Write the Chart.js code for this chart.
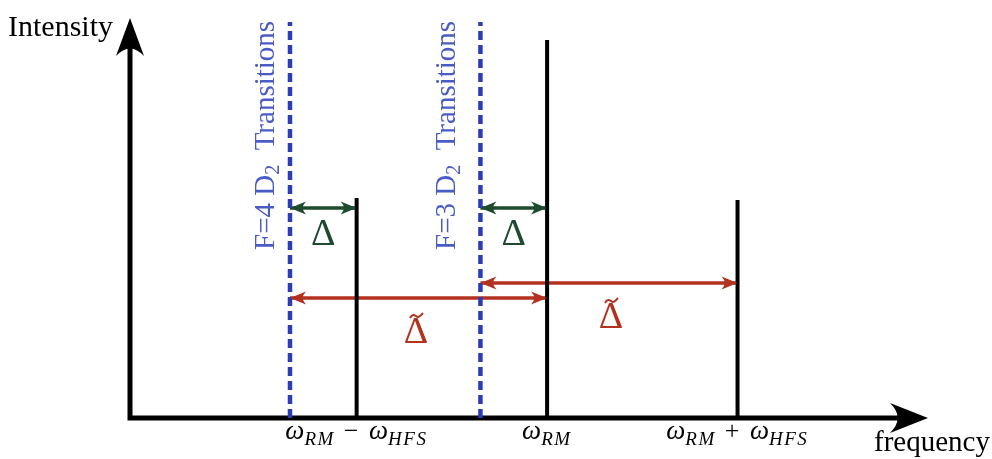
<!DOCTYPE html>
<html>
<head>
<meta charset="utf-8">
<script src="https://cdn.jsdelivr.net/npm/chart.js@4.4.0/dist/chart.umd.min.js"></script>
<style>
  html, body { margin: 0; padding: 0; background: #fff; }
  #wrap { width: 992px; height: 459px; }
</style>
</head>
<body>
<div id="wrap"><canvas id="chart" width="992" height="459"></canvas></div>
<script>
// frequencies in units of the hyperfine splitting, centred on omega_RM
const stemFreqs = [-1, 0, 1];
const stemHeights = [0.55, 0.945, 0.545];
const transitionFreqs = [-1.35, -0.35];
const transitionNames = ['F=4', 'F=3'];
const transitionTop = 0.99;
// detuning arrows: [from, to, level]
const deltaArrows = [[-1.35, -1, 0.525], [-0.35, 0, 0.525]];
const tildeArrows = [[-1.35, 0, 0.30], [-0.35, 1, 0.3375]];
const tickFreqs = [-1, 0, 1];
const tickLabels = [
  [['ω', 'RM'], ' − ', ['ω', 'HFS']],
  [['ω', 'RM']],
  [['ω', 'RM'], ' + ', ['ω', 'HFS']]
];

const BLUE = '#2b3cb6';
const BLUE_TEXT = '#4a5cc4';
const GREEN = '#1e4a2e';
const RED = '#b3321f';
const SERIF = '"Liberation Serif", "DejaVu Serif", serif';

const datasets = [];
stemFreqs.forEach((f, i) => {
  datasets.push({
    data: [{ x: f, y: 0 }, { x: f, y: stemHeights[i] }],
    borderColor: '#000', borderWidth: 4, pointRadius: 0, borderCapStyle: 'butt'
  });
});
transitionFreqs.forEach((f) => {
  datasets.push({
    data: [{ x: f, y: 0 }, { x: f, y: transitionTop }],
    borderColor: BLUE, borderWidth: 4.5, borderDash: [9, 5], pointRadius: 0
  });
});
deltaArrows.concat(tildeArrows).forEach((a, i) => {
  datasets.push({
    data: [{ x: a[0], y: a[2] }, { x: a[1], y: a[2] }],
    borderColor: i < deltaArrows.length ? GREEN : RED,
    borderWidth: 3.5, pointRadius: 0, arrow: true
  });
});

// concave LaTeX-like arrow head, tip at (x,y), pointing along angle
function head(ctx, x, y, ang, len, half, color) {
  ctx.save();
  ctx.translate(x, y);
  ctx.rotate(ang);
  ctx.fillStyle = color;
  ctx.beginPath();
  ctx.moveTo(0, 0);
  ctx.lineTo(-len, -half);
  ctx.quadraticCurveTo(-len * 0.6, 0, -len, half);
  ctx.closePath();
  ctx.fill();
  ctx.restore();
}

function mathLabel(ctx, parts, cx, y) {
  const big = 'italic 27px ' + SERIF;
  const sub = 'italic 19px ' + SERIF;
  const up = '26px ' + SERIF;
  const pieces = [];
  parts.forEach(p => {
    if (typeof p === 'string') {
      pieces.push({ t: p, f: up, dy: 0, gap: 4 });
    } else {
      pieces.push({ t: p[0], f: big, dy: 0, gap: 0 });
      pieces.push({ t: p[1], f: sub, dy: 6, gap: 1.5 });
    }
  });
  let w = 0;
  pieces.forEach(p => {
    ctx.font = p.f;
    p.w = ctx.measureText(p.t).width + p.gap * (p.t.length - 1);
    w += p.w;
  });
  let x = cx - w / 2;
  ctx.textAlign = 'left';
  ctx.textBaseline = 'alphabetic';
  pieces.forEach(p => {
    ctx.font = p.f;
    let xx = x;
    for (const ch of p.t) {
      ctx.fillText(ch, xx, y + p.dy);
      xx += ctx.measureText(ch).width + p.gap;
    }
    x += p.w;
  });
}

function deltaGlyph(ctx, x, y, color, tilde) {
  ctx.fillStyle = color;
  ctx.strokeStyle = color;
  ctx.font = '38px ' + SERIF;
  ctx.textAlign = 'center';
  ctx.textBaseline = 'alphabetic';
  ctx.fillText('Δ', x, y);
  if (tilde) {
    ctx.lineWidth = 2;
    ctx.beginPath();
    ctx.moveTo(x - 6, y - 25);
    ctx.bezierCurveTo(x - 3, y - 31, x + 0, y - 26, x + 2, y - 26);
    ctx.bezierCurveTo(x + 4, y - 26, x + 6, y - 29, x + 7, y - 30);
    ctx.stroke();
  }
}

const schematic = {
  id: 'schematic',
  beforeDatasetsDraw(chart) {
    const { ctx, chartArea: a } = chart;
    ctx.save();
    ctx.strokeStyle = '#000';
    ctx.lineWidth = 5;
    ctx.beginPath();
    ctx.moveTo(a.left, a.bottom + 2.5);
    ctx.lineTo(a.left, a.top + 20);
    ctx.moveTo(a.left - 2.5, a.bottom);
    ctx.lineTo(a.right - 20, a.bottom);
    ctx.stroke();
    head(ctx, a.left, a.top, -Math.PI / 2, 38, 14, '#000');
    head(ctx, a.right, a.bottom, 0, 38, 15, '#000');
    ctx.restore();
  },
  afterDatasetsDraw(chart) {
    const { ctx, scales: { x, y } } = chart;
    ctx.save();
    // arrow heads
    chart.data.datasets.forEach(ds => {
      if (!ds.arrow) return;
      const x0 = x.getPixelForValue(ds.data[0].x);
      const x1 = x.getPixelForValue(ds.data[1].x);
      const yy = y.getPixelForValue(ds.data[0].y);
      head(ctx, x0, yy, Math.PI, 16, 6.5, ds.borderColor);
      head(ctx, x1, yy, 0, 16, 6.5, ds.borderColor);
    });
    // axis titles
    ctx.fillStyle = '#000';
    ctx.font = '30px ' + SERIF;
    ctx.textAlign = 'left';
    ctx.textBaseline = 'alphabetic';
    ctx.fillText('Intensity', 8, 36);
    ctx.font = '29px ' + SERIF;
    ctx.fillText('frequency', 874, 451);
    // tick labels
    ctx.fillStyle = '#000';
    tickFreqs.forEach((f, i) => mathLabel(ctx, tickLabels[i], x.getPixelForValue(f) - 1, 439));
    // delta labels
    deltaArrows.forEach(d => {
      const cx = (x.getPixelForValue(d[0]) + x.getPixelForValue(d[1])) / 2;
      deltaGlyph(ctx, cx, y.getPixelForValue(d[2]) + 37, GREEN, false);
    });
    deltaGlyph(ctx, 416, 343, RED, true);
    deltaGlyph(ctx, 611, 328, RED, true);
    // rotated transition labels
    const offs = [16, 25];
    transitionFreqs.forEach((f, i) => {
      const px = x.getPixelForValue(f) - offs[i];
      ctx.save();
      ctx.translate(px, 250);
      ctx.rotate(-Math.PI / 2);
      ctx.fillStyle = BLUE_TEXT;
      ctx.textAlign = 'left';
      let cx = 0;
      ctx.font = '29px ' + SERIF;
      const t1 = transitionNames[i] + ' D';
      ctx.fillText(t1, cx, 0); cx += ctx.measureText(t1).width;
      ctx.font = '20px ' + SERIF;
      ctx.fillText('2', cx, 5); cx += ctx.measureText('2').width;
      ctx.font = '29px ' + SERIF;
      ctx.fillText('  Transitions', cx, 0);
      ctx.restore();
    });
    ctx.restore();
  }
};

new Chart(document.getElementById('chart'), {
  type: 'scatter',
  data: { datasets },
  options: {
    responsive: false,
    animation: false,
    showLine: true,
    clip: false,
    layout: { padding: { left: 130, right: 64, top: 18, bottom: 41 } },
    scales: {
      x: { type: 'linear', display: false, min: -2.19, max: 2.0 },
      y: { type: 'linear', display: false, min: 0, max: 1 }
    },
    plugins: { legend: { display: false }, tooltip: { enabled: false } }
  },
  plugins: [schematic]
});
</script>
</body>
</html>
